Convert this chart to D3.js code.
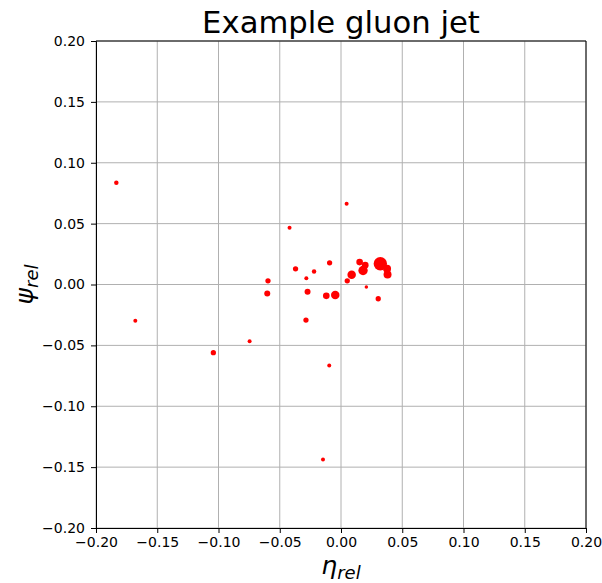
<!DOCTYPE html>
<html>
<head>
<meta charset="utf-8">
<script src="https://cdn.jsdelivr.net/npm/d3@7"></script>
<style>
  body { margin: 0; background: #fff; }
  svg { font-family: "DejaVu Sans", sans-serif; }
</style>
</head>
<body>
<div id="chart"></div>
<script>
// jet constituents: relative eta, relative phi, pt (arbitrary units)
const etaRel = [-0.1834, -0.1679, -0.1042, -0.0746, -0.0596, -0.0602, -0.0420, -0.0371, -0.0283, -0.0220,
  -0.0273, -0.0286, -0.0093, -0.0120, -0.0047, -0.0096, -0.0147, 0.0046, 0.0051, 0.0087,
  0.0152, 0.0198, 0.0180, 0.0207, 0.0321, 0.0376, 0.0380, 0.0304];
const phiRel = [0.0836, -0.0298, -0.0560, -0.0467, 0.0030, -0.0074, 0.0467, 0.0129, 0.0052, 0.0107,
  -0.0060, -0.0292, 0.0178, -0.0093, -0.0087, -0.0666, -0.1437, 0.0664, 0.0030, 0.0080,
  0.0184, 0.0159, 0.0115, -0.0021, 0.0170, 0.0129, 0.0082, -0.0117];
const ptVals = [5, 4, 7, 4, 7, 9, 4, 7, 4, 5,
  9, 7, 7, 11, 18, 4, 4, 4, 7, 18,
  11, 11, 22, 3, 45, 16, 16, 7];
const tickVals = [-0.20, -0.15, -0.10, -0.05, 0.00, 0.05, 0.10, 0.15, 0.20];

const width = 602, height = 583;
const margin = {top: 41, right: 16, bottom: 55, left: 96};

const svg = d3.select("#chart").append("svg")
  .attr("width", width).attr("height", height);

const x = d3.scaleLinear().domain([-0.2, 0.2]).range([margin.left, width - margin.right]);
const y = d3.scaleLinear().domain([-0.2, 0.2]).range([height - margin.bottom, margin.top]);
const r = d3.scaleSqrt().domain([0, d3.max(ptVals)]).range([0, 6.7]);
const fmt = d3.format(".2f");

// grid
svg.append("g").selectAll("line").data(tickVals).enter().append("line")
  .attr("x1", d => x(d)).attr("x2", d => x(d))
  .attr("y1", y(-0.2)).attr("y2", y(0.2))
  .attr("stroke", "#b0b0b0").attr("stroke-width", 1);
svg.append("g").selectAll("line").data(tickVals).enter().append("line")
  .attr("y1", d => y(d)).attr("y2", d => y(d))
  .attr("x1", x(-0.2)).attr("x2", x(0.2))
  .attr("stroke", "#b0b0b0").attr("stroke-width", 1);

// points
const pts = d3.range(etaRel.length);
svg.append("g").selectAll("circle").data(pts).enter().append("circle")
  .attr("cx", i => x(etaRel[i]))
  .attr("cy", i => y(phiRel[i]))
  .attr("r", i => r(ptVals[i]))
  .attr("fill", "red");

// axes
const xAxis = svg.append("g")
  .attr("transform", "translate(0," + y(-0.2) + ")")
  .call(d3.axisBottom(x).tickValues(tickVals).tickFormat(fmt).tickSizeOuter(0).tickSize(5).tickPadding(4));
const yAxis = svg.append("g")
  .attr("transform", "translate(" + x(-0.2) + ",0)")
  .call(d3.axisLeft(y).tickValues(tickVals).tickFormat(fmt).tickSizeOuter(0).tickSize(5).tickPadding(6));
[xAxis, yAxis].forEach(a => {
  a.selectAll("text").style("font-size", "14px").attr("fill", "#000")
    .style("font-family", "DejaVu Sans, sans-serif");
  a.selectAll("line").attr("stroke", "#000");
  a.select(".domain").attr("stroke", "#000");
});

// top and right spines
svg.append("line").attr("x1", x(-0.2)).attr("x2", x(0.2)).attr("y1", y(0.2)).attr("y2", y(0.2)).attr("stroke", "#000");
svg.append("line").attr("x1", x(0.2)).attr("x2", x(0.2)).attr("y1", y(0.2)).attr("y2", y(-0.2)).attr("stroke", "#000");

// title
svg.append("text")
  .attr("x", (x(-0.2) + x(0.2)) / 2).attr("y", 33)
  .attr("text-anchor", "middle")
  .style("font-size", "30.7px")
  .text("Example gluon jet");

// axis labels
const xl = svg.append("text")
  .attr("x", (x(-0.2) + x(0.2)) / 2).attr("y", 574)
  .attr("text-anchor", "middle")
  .style("font-size", "25px").style("font-style", "italic");
xl.append("tspan").text("η");
xl.append("tspan").attr("dy", 5).style("font-size", "18px").text("rel");

const yl = svg.append("text")
  .attr("transform", "translate(33," + (y(-0.2) + y(0.2)) / 2 + ") rotate(-90)")
  .attr("text-anchor", "middle")
  .style("font-size", "25px").style("font-style", "italic");
yl.append("tspan").text("ψ");
yl.append("tspan").attr("dy", 5).style("font-size", "18px").text("rel");
</script>
</body>
</html>
